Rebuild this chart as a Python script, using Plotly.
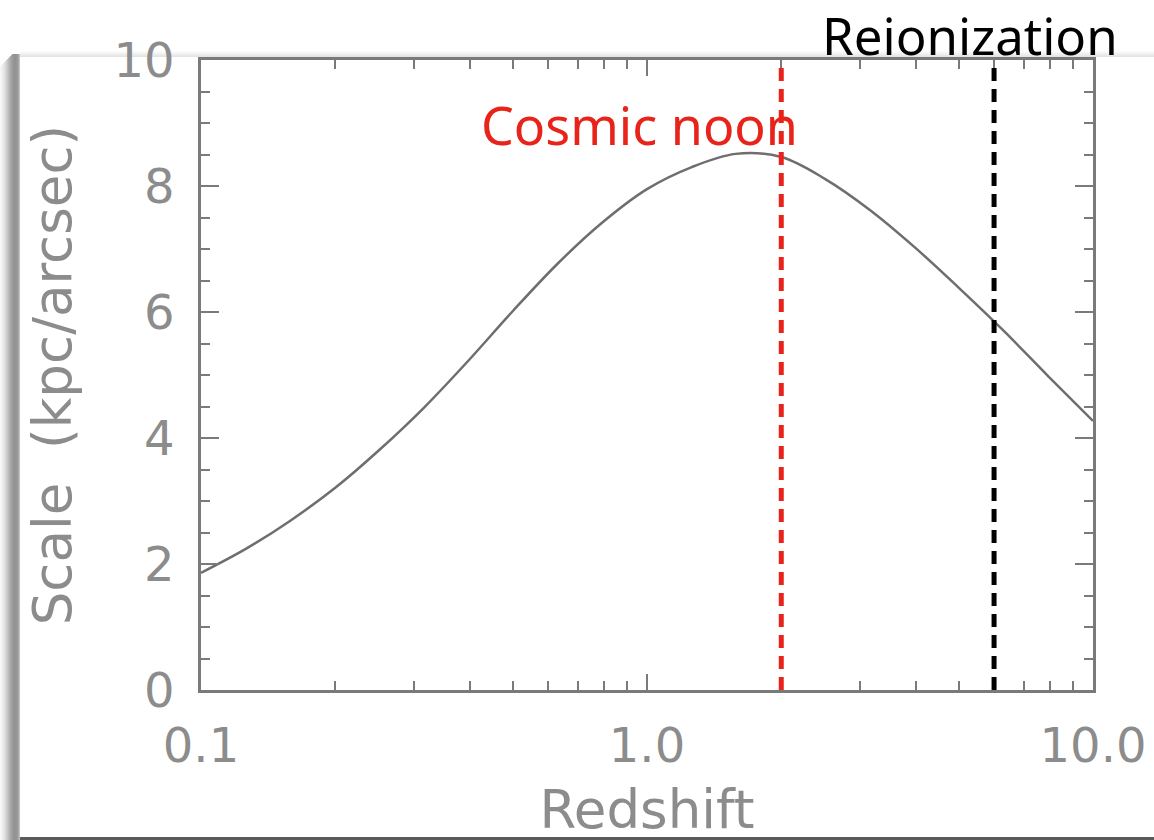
import plotly.graph_objects as go

# ---- data ----
redshift = [0.100, 0.126, 0.158, 0.200, 0.251, 0.316, 0.398, 0.501, 0.631, 0.794,
            1.000, 1.260, 1.580, 2.000, 2.510, 3.160, 3.980, 5.010, 6.310, 7.940, 10.00]
scale_kpc_arcsec = [1.86, 2.24, 2.68, 3.21, 3.81, 4.48, 5.23, 6.02, 6.77, 7.42,
                    7.95, 8.30, 8.51, 8.46, 8.11, 7.62, 7.03, 6.38, 5.70, 4.98, 4.27]
cosmic_noon_z = 2.0
reionization_z = 6.0
x_tick_vals = [0.1, 1.0, 10.0]
x_tick_text = ["0.1", "1.0", "10.0"]
x_minor_vals = [0.2, 0.3, 0.4, 0.5, 0.6, 0.7, 0.8, 0.9, 2, 3, 4, 5, 6, 7, 8, 9]
y_tick_vals = [0, 2, 4, 6, 8, 10]

W, H = 1154, 840
L, R, T, B = 201, 1093, 60, 690

def px(xp):
    return (xp - L) / (R - L)

def py(yp):
    return (B - yp) / (B - T)

axis_col = "#7a7a7a"
text_col = "#8c8c8c"

fig = go.Figure()
fig.add_trace(go.Scatter(x=redshift, y=scale_kpc_arcsec, mode="lines",
                         line=dict(color="#6e6e6e", width=2.5, shape="spline", smoothing=1.0),
                         showlegend=False, hoverinfo="skip"))

shapes = []
# vertical dashed markers
shapes.append(dict(type="line", xref="x", yref="paper", x0=cosmic_noon_z, x1=cosmic_noon_z,
                   y0=0, y1=0.995, line=dict(color="#e8231a", width=5, dash="13px,8px")))
shapes.append(dict(type="line", xref="x", yref="paper", x0=reionization_z, x1=reionization_z,
                   y0=0, y1=1.0, line=dict(color="#000000", width=5, dash="13px,8px")))

# page frame shadow (decoration)
left_cols = ["#f7f7f7", "#f3f3f3", "#eeeeee", "#e8e8e8", "#e1e1e1", "#d9d9d9", "#d0d0d0",
             "#c6c6c6", "#bcbcbc", "#b2b2b2", "#a9a9a9", "#a1a1a1", "#9b9b9b", "#969696",
             "#939393", "#929292", "#959595", "#9c9c9c", "#a8a8a8", "#c0c0c0"]
for i, c in enumerate(left_cols):
    shapes.append(dict(type="rect", xref="paper", yref="paper", x0=px(i), x1=px(i + 1),
                       y0=py(840), y1=py(54 + max(0, 12 - i)), fillcolor=c, line=dict(width=0),
                       layer="above"))
top_cols = ["#fbfbfb", "#f7f7f7", "#f2f2f2", "#ededed", "#e8e8e8", "#e4e4e4"]
for j, c in enumerate(top_cols):
    y_top = 51 + j
    shapes.append(dict(type="rect", xref="paper", yref="paper", x0=px(20), x1=px(1154),
                       y0=py(y_top + 1), y1=py(y_top), fillcolor=c, line=dict(width=0),
                       layer="below"))
shapes.append(dict(type="rect", xref="paper", yref="paper", x0=px(20), x1=px(1154),
                   y0=py(840), y1=py(837), fillcolor="#5a5a5a", line=dict(width=0), layer="above"))

fig.update_layout(
    width=W, height=H,
    margin=dict(l=L, r=W - R, t=T, b=H - B),
    paper_bgcolor="white", plot_bgcolor="white",
    shapes=shapes,
    xaxis=dict(type="log", range=[-1, 1], tickmode="array", tickvals=x_tick_vals,
               ticktext=x_tick_text, ticks="inside", ticklen=16, tickwidth=2, tickcolor=axis_col,
               showline=True, linecolor=axis_col, linewidth=2.5, mirror="ticks",
               showgrid=False, zeroline=False, automargin=False,
               minor=dict(tickmode="array", tickvals=x_minor_vals, ticks="inside", ticklen=9,
                          tickwidth=2, tickcolor=axis_col, showgrid=False),
               tickfont=dict(family="DejaVu Sans", size=48, color=text_col),
               ticklabelstandoff=12,
               title=dict(text="Redshift", font=dict(family="DejaVu Sans", size=53, color=text_col),
                          standoff=32)),
    yaxis=dict(range=[0, 10], tickmode="array", tickvals=y_tick_vals,
               ticks="inside", ticklen=18, tickwidth=2, tickcolor=axis_col,
               showline=True, linecolor=axis_col, linewidth=2.5, mirror="ticks",
               showgrid=False, zeroline=False, automargin=False,
               minor=dict(dtick=0.5, ticks="inside", ticklen=9, tickwidth=2,
                          tickcolor=axis_col, showgrid=False),
               tickfont=dict(family="DejaVu Sans", size=48, color=text_col),
               ticklabelstandoff=14,
               title=dict(text="Scale  (kpc/arcsec)",
                          font=dict(family="DejaVu Sans", size=53, color=text_col),
                          standoff=26)),
    annotations=[
        dict(text="Cosmic noon", xref="paper", yref="paper", x=px(639), y=py(125),
             showarrow=False, font=dict(family="Noto Sans", size=52, color="#e8231a"),
             xanchor="center", yanchor="middle"),
        dict(text="Reionization", xref="paper", yref="paper", x=px(970), y=py(35),
             showarrow=False, font=dict(family="Noto Sans", size=51, color="#000000"),
             xanchor="center", yanchor="middle"),
    ],
)

fig.write_html("out.html")
